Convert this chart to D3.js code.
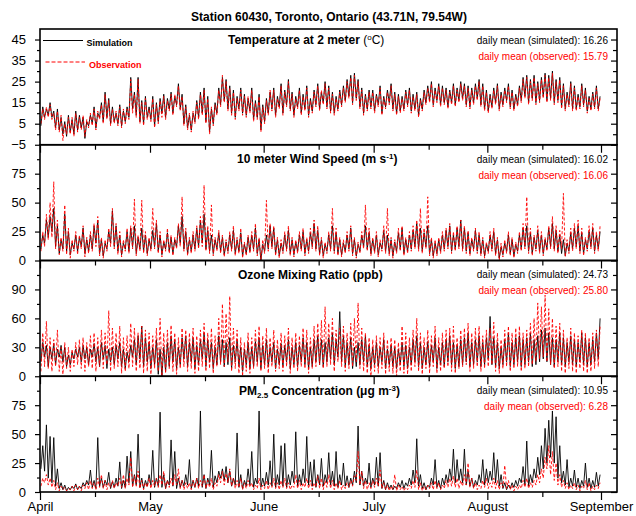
<!DOCTYPE html>
<html>
<head>
<meta charset="utf-8">
<script src="https://cdn.jsdelivr.net/npm/d3@7"></script>
<style>
body { margin: 0; background: #fff; }
text { font-family: "Liberation Sans", Arial, sans-serif; }
</style>
</head>
<body>
<svg width="636" height="516"></svg>
<script>
// two readings per day (night low, afternoon high), Apr 1 .. Sep 1
const tempSim = [
  4,13,8,12,9,15,8,11,3,12,2,8,0,6,-1,9,1,7,0,11,
  2,9,3,8,-2,6,4,9,5,13,3,10,8,15,6,20,8,17,5,13,
  6,10,5,14,4,11,6,13,8,27,12,20,9,27,6,16,5,18,8,13,
  7,18,4,15,6,17,10,19,8,17,12,20,10,18,14,24,12,19,5,14,
  3,9,2,10,6,16,8,20,10,22,6,18,1,12,5,15,10,22,14,27,
  16,26,12,23,10,21,8,18,12,22,10,19,9,17,11,22,7,16,8,19,
  2,14,6,17,10,20,12,22,9,18,13,24,10,21,14,26,12,20,9,18,
  13,22,10,19,12,23,9,17,11,21,14,24,12,20,15,25,13,23,11,20,
  10,18,12,21,14,23,16,26,18,28,15,29,17,26,13,22,10,19,12,21,
  13,21,11,19,14,23,10,18,13,21,15,24,12,20,10,19,11,18,12,21,
  14,22,11,19,12,20,9,17,12,21,15,23,16,25,14,22,16,24,14,23,
  15,22,13,21,15,24,14,22,16,25,17,24,14,23,13,22,15,24,17,26,
  14,24,12,21,11,19,13,22,15,24,12,20,14,22,16,24,13,21,12,19,
  14,23,16,27,18,28,15,26,17,28,15,25,16,27,18,29,16,28,17,30,
  15,26,16,27,13,24,12,20,14,25,12,23,12,19,13,24,14,22,11,18,
  12,20,13,23,12,18
];
const tempObs = [
  5,12,7,13,8,14,7,10,2,11,1,9,-3,5,0,8,0,8,-1,10,
  1,8,2,9,-1,7,3,10,4,12,2,11,7,14,5,19,7,16,4,12,
  5,11,4,13,3,12,5,12,7,26,10,19,8,26,5,15,4,17,7,12,
  6,17,3,14,5,16,8,18,7,16,11,19,9,19,13,23,11,18,4,13,
  2,10,1,11,5,15,7,19,9,21,5,17,0,13,4,14,9,21,13,28,
  15,25,11,22,9,20,7,17,11,21,9,18,8,18,10,21,6,15,7,18,
  1,13,5,16,9,21,11,21,8,17,12,23,9,20,13,25,11,19,8,17,
  12,21,9,18,11,22,8,16,10,20,13,23,11,21,14,24,12,22,10,19,
  9,17,11,20,13,22,15,25,17,27,14,28,16,25,12,21,9,18,11,20,
  12,20,10,18,13,22,9,17,12,20,14,23,11,19,9,18,10,17,11,20,
  13,21,10,18,11,19,8,16,11,20,14,22,15,24,13,21,15,23,13,22,
  14,21,12,20,14,23,13,21,15,24,16,23,13,22,12,21,14,23,16,25,
  13,23,11,20,10,18,12,21,14,23,11,19,13,21,15,23,12,20,11,18,
  13,22,15,26,17,27,14,25,16,27,14,24,15,26,17,28,15,27,16,29,
  14,25,15,26,12,23,11,19,13,24,11,22,11,18,12,23,13,21,10,17,
  11,19,12,22,11,17
];
const windSim = [
  10,22,15,35,20,38,25,45,12,30,6,18,10,40,8,25,5,15,10,22,
  8,20,12,28,6,18,8,22,10,30,15,35,6,18,4,15,10,25,15,43,
  12,30,8,22,5,15,10,25,8,28,12,30,6,20,10,28,8,22,6,18,
  10,26,12,32,8,22,5,16,10,24,8,20,6,18,12,30,15,38,10,25,
  6,18,8,22,10,28,12,35,15,40,10,26,8,22,6,18,10,24,8,20,
  5,16,8,22,10,26,6,18,8,24,4,14,6,20,8,22,10,28,6,18,
  0,14,8,22,10,30,12,28,6,18,4,15,8,22,10,26,6,18,5,16,
  8,22,10,25,6,18,8,24,12,32,10,26,6,18,4,14,8,22,10,30,
  8,24,6,18,5,15,8,22,10,28,6,18,4,14,8,22,12,30,10,24,
  6,18,8,22,5,15,10,26,8,22,6,18,4,16,8,24,10,28,6,18,
  8,22,10,26,12,32,10,28,8,24,12,30,6,18,4,15,6,18,8,22,
  10,26,12,30,8,22,10,28,12,35,10,28,8,24,6,18,10,26,8,22,
  6,18,4,14,8,22,10,25,6,18,2,12,5,15,8,22,6,18,4,14,
  8,22,10,28,12,30,8,24,6,20,10,26,8,22,6,18,10,28,12,32,
  10,26,8,22,6,18,4,15,8,24,10,28,12,30,8,24,6,18,10,25,
  12,28,8,22,10,25
];
const windObs = [
  8,25,12,40,18,50,20,68,10,35,5,20,8,48,5,28,2,18,8,25,
  5,22,10,30,3,20,6,25,8,32,12,38,4,20,2,18,8,28,12,45,
  10,32,5,25,3,18,8,28,6,30,10,53,4,22,8,52,6,25,4,20,
  8,45,10,35,6,25,3,18,8,28,6,22,4,20,10,32,12,55,8,28,
  4,20,6,25,8,30,10,38,12,65,8,30,6,48,4,20,8,26,6,22,
  3,18,6,25,8,30,4,20,6,28,2,16,4,22,6,25,8,32,4,20,
  0,18,6,52,8,32,10,30,4,20,2,18,6,25,8,30,4,20,3,18,
  6,25,8,28,4,20,6,28,10,35,8,30,4,20,2,16,6,25,8,45,
  6,28,4,20,3,18,6,25,8,30,4,20,2,16,6,25,10,48,8,28,
  4,20,6,25,3,18,8,30,6,45,4,20,2,18,6,28,8,30,4,20,
  6,25,8,30,10,35,8,45,6,28,10,55,4,20,2,18,4,20,6,25,
  8,28,10,32,6,25,8,30,10,35,8,30,6,26,4,20,8,28,6,25,
  4,20,2,16,6,25,8,28,4,20,0,15,3,18,6,25,4,20,2,16,
  6,25,8,32,10,55,6,28,4,22,8,30,6,25,4,20,8,30,10,38,
  8,30,6,26,10,58,3,18,6,28,8,32,10,35,6,28,4,20,8,30,
  10,32,6,25,8,30
];
const ozoneSim = [
  15,35,20,32,10,30,18,34,12,28,20,32,15,30,10,22,12,25,18,28,
  20,30,15,32,18,30,12,28,20,34,15,30,10,35,18,32,8,28,15,30,
  12,32,18,35,10,28,8,25,15,32,20,38,12,42,18,52,10,40,15,35,
  8,30,12,38,2,28,0,30,5,35,10,42,15,38,8,30,12,40,18,42,
  10,35,15,40,8,32,12,38,18,45,10,38,15,35,8,30,12,42,15,38,
  10,35,12,40,8,32,15,38,10,30,5,28,12,35,8,30,10,36,15,40,
  8,32,12,38,10,30,15,35,8,28,12,34,10,32,15,38,8,30,12,35,
  10,32,15,40,12,35,8,30,10,38,15,42,12,38,10,35,15,40,18,45,
  12,38,20,67,15,42,10,35,12,40,8,30,10,35,12,38,15,42,10,32,
  8,30,12,35,10,30,15,38,8,28,12,32,10,30,8,28,12,35,10,32,
  8,30,12,38,15,42,10,35,8,30,12,36,10,32,15,40,8,30,12,35,
  10,38,15,42,12,35,8,32,10,38,12,40,15,45,10,35,12,38,15,42,
  10,35,12,40,18,62,12,40,10,35,8,30,12,38,15,45,10,35,12,40,
  15,42,10,38,12,40,15,45,10,38,12,42,15,48,18,50,15,45,12,40,
  10,38,15,45,12,40,10,35,15,42,12,38,10,35,15,45,12,40,10,35,
  12,38,15,45,18,60
];
const ozoneObs = [
  5,45,10,57,8,40,5,38,10,48,5,30,2,35,8,30,5,28,10,35,
  12,38,8,40,5,35,10,42,8,45,5,40,10,48,8,45,12,68,5,50,
  8,45,10,52,3,40,5,42,8,55,10,50,5,45,8,52,3,48,5,45,
  2,42,8,50,5,60,0,45,3,48,8,53,5,45,2,40,8,50,10,48,
  5,45,8,50,3,42,5,48,10,55,5,45,8,50,3,42,10,60,12,75,
  10,65,15,83,5,50,8,48,3,40,0,35,5,45,3,40,8,48,10,52,
  5,42,8,50,3,40,10,48,5,38,8,45,5,42,10,50,3,40,8,45,
  5,42,10,50,8,48,3,40,8,52,10,55,12,58,8,72,10,55,12,60,
  5,48,15,50,10,52,5,45,8,55,10,60,15,76,8,50,5,45,3,40,
  0,38,5,42,3,40,8,45,2,38,5,40,3,38,0,35,5,52,3,45,
  2,40,5,48,10,60,5,45,2,40,8,48,3,42,10,52,3,40,5,45,
  8,48,10,50,5,52,3,40,8,48,10,50,12,55,5,45,8,50,10,52,
  5,42,8,48,10,50,12,56,5,45,3,38,8,48,10,52,5,45,8,50,
  10,52,5,45,8,48,10,55,12,60,15,76,18,72,20,84,15,70,12,60,
  8,52,10,55,5,48,3,40,8,50,5,45,3,42,8,48,5,45,3,40,
  5,45,8,48,10,52
];
const pmSim = [
  20,40,18,58,12,48,8,47,5,20,3,8,2,6,1,4,2,5,3,7,
  2,5,3,8,5,10,6,19,4,10,3,47,5,12,4,10,6,17,3,9,
  4,12,5,26,3,10,4,31,8,35,5,15,6,50,4,12,3,10,5,15,
  6,36,4,12,5,69,4,15,3,10,6,45,5,35,3,12,4,10,5,15,
  6,28,3,10,4,12,5,70,4,15,3,12,6,36,4,14,8,18,12,20,
  10,22,8,18,5,12,6,51,4,15,3,10,5,20,6,35,4,12,7,70,
  4,12,5,17,6,27,5,50,4,15,6,40,5,42,4,15,6,18,8,52,
  5,15,6,20,8,48,6,26,5,28,4,15,6,29,5,15,8,34,6,18,
  5,35,4,15,6,25,5,14,4,12,6,18,8,57,6,18,5,12,7,25,
  4,12,6,30,5,34,3,10,2,8,3,6,2,5,3,8,4,10,3,8,
  5,12,6,19,8,46,5,15,3,8,2,6,4,12,6,28,4,10,3,12,
  6,15,8,20,10,37,8,28,10,20,8,37,6,18,5,12,4,10,6,15,
  8,28,6,20,8,18,10,34,8,28,5,15,3,8,2,6,3,8,4,10,
  5,12,8,22,6,44,5,15,8,20,12,30,15,40,20,55,25,62,30,70,
  25,65,12,40,8,18,6,28,4,12,5,19,4,12,3,10,5,25,4,12,
  3,10,4,17,5,15
];
const pmObs = [
  5,12,8,15,6,12,4,10,2,8,1,5,2,4,1,3,2,5,1,6,
  2,5,1,6,3,8,2,10,3,8,2,12,4,15,3,10,2,8,4,10,
  3,8,5,12,4,15,3,12,6,30,4,14,5,18,3,10,2,8,4,12,
  3,10,5,12,4,15,6,18,3,10,4,12,5,15,6,20,3,10,2,8,
  3,8,2,10,4,12,3,10,5,15,3,10,4,12,2,8,5,15,8,18,
  6,16,8,20,5,12,3,10,4,12,2,8,3,10,4,8,2,6,3,12,
  2,6,3,10,2,8,4,12,3,8,2,10,4,12,3,8,2,6,4,15,
  3,10,2,8,4,12,3,10,2,8,4,14,3,12,2,10,4,15,3,10,
  2,8,3,10,2,6,3,8,4,10,5,14,10,35,6,18,3,10,2,8,
  3,10,4,12,5,19,3,8,2,6,1,5,2,15,1,6,2,5,1,4,
  2,6,3,10,4,19,2,8,1,5,2,6,3,8,2,10,3,8,2,6,
  3,10,4,12,5,14,4,12,3,10,5,15,6,25,4,12,3,8,2,6,
  3,10,4,12,3,8,4,12,3,10,2,8,4,23,3,10,2,6,1,5,
  2,6,3,10,4,12,3,8,4,10,6,15,8,20,12,30,20,40,15,35,
  10,25,6,15,4,10,3,8,2,6,3,8,2,6,1,5,3,10,2,8,
  1,5,2,6,3,8
];

const tempTicks = [-5, 5, 15, 25, 35, 45];
const tempMinor = [0, 10, 20, 30, 40];
const windTicks = [0, 25, 50, 75];
const windMinor = [12.5, 37.5, 62.5, 87.5];
const ozoneTicks = [0, 30, 60, 90];
const ozoneMinor = [15, 45, 75, 105];
const pmTicks = [0, 25, 50, 75];
const pmMinor = [12.5, 37.5, 62.5, 87.5];

const meanSim = ["16.26", "16.02", "24.73", "10.95"];
const meanObs = ["15.79", "16.06", "25.80", "6.28"];

const svg = d3.select("svg");
const left = 40, right = 617, top0 = 29, panelH = 115.75;
const t0 = Date.UTC(2010, 3, 1);

const x = d3.scaleUtc()
    .domain([new Date(t0), new Date(Date.UTC(2010, 8, 1))])
    .range([40, 601]);

const asSeries = arr => arr.map((v, i) => ({ t: new Date(t0 + (i * 12 + 6) * 3600e3), v }));

const monthTicks = d3.utcMonth.range(new Date(t0), new Date(Date.UTC(2010, 8, 2)));
const midTicks = monthTicks.slice(0, -1).map(d => d3.utcDay.offset(d, 15));

const panels = [
  { sim: tempSim, obs: tempObs, domain: [-5, 50], major: tempTicks, minor: tempMinor,
    titleX: 228, titleY: 44, txtY: [44, 59.5],
    title: [["Temperature at 2 meter ", "bold"], ["(", "normal"], ["o", "normal", "sup"], ["C)", "normal"]] },
  { sim: windSim, obs: windObs, domain: [0, 100], major: windTicks, minor: windMinor,
    titleX: 237, titleY: 163, txtY: [163, 179],
    title: [["10 meter Wind Speed (m s", "bold"], ["-1", "bold", "sup"], [")", "bold"]] },
  { sim: ozoneSim, obs: ozoneObs, domain: [0, 120], major: ozoneTicks, minor: ozoneMinor,
    titleX: 238, titleY: 279, txtY: [278, 294],
    title: [["Ozone Mixing Ratio (ppb)", "bold"]] },
  { sim: pmSim, obs: pmObs, domain: [0, 100], major: pmTicks, minor: pmMinor,
    titleX: 239, titleY: 395, txtY: [394, 410],
    title: [["PM", "bold"], ["2.5", "bold", "sub"], [" Concentration (\u03bcg m", "bold"], ["-3", "bold", "sup"], [")", "bold"]] }
];

svg.append("text")
    .attr("x", 329).attr("y", 21)
    .attr("text-anchor", "middle")
    .attr("font-size", 12).attr("font-weight", "bold")
    .text("Station 60430, Toronto, Ontario (43.71N, 79.54W)");

const noLabels = a => a.call(s => s.select(".domain").remove()).call(s => s.selectAll("text").remove());

panels.forEach((p, i) => {
  const top = top0 + i * panelH, bottom = top + panelH;
  const y = d3.scaleLinear().domain(p.domain).range([bottom, top]);
  const g = svg.append("g");

  g.append("clipPath").attr("id", "clip" + i)
    .append("rect").attr("x", left).attr("y", top).attr("width", right - left).attr("height", panelH);

  const line = d3.line().x(d => x(d.t)).y(d => y(d.v));
  const plot = g.append("g").attr("clip-path", `url(#clip${i})`);
  plot.append("path")
      .datum(asSeries(p.sim))
      .attr("d", line)
      .attr("fill", "none").attr("stroke", "#000").attr("stroke-width", 0.9);
  plot.append("path")
      .datum(asSeries(p.obs))
      .attr("d", line)
      .attr("fill", "none").attr("stroke", "#ff0000").attr("stroke-width", 0.9)
      .attr("stroke-dasharray", "3,2");

  // left axis
  g.append("g").attr("transform", `translate(${left},0)`)
      .call(d3.axisLeft(y).tickValues(p.major).tickSize(5).tickPadding(9))
      .call(a => a.select(".domain").remove())
      .call(a => a.selectAll("text").attr("font-size", 13).attr("font-family", "Liberation Sans, Arial, sans-serif").attr("fill", "#000"));
  g.append("g").attr("transform", `translate(${left},0)`)
      .call(d3.axisLeft(y).tickValues(p.minor).tickSize(3))
      .call(noLabels);

  // right axis
  g.append("g").attr("transform", `translate(${right},0)`)
      .call(d3.axisRight(y).tickValues(p.major).tickSize(-6))
      .call(noLabels);
  g.append("g").attr("transform", `translate(${right},0)`)
      .call(d3.axisRight(y).tickValues(p.minor).tickSize(-4))
      .call(noLabels);

  // bottom axis
  const last = i === panels.length - 1;
  const bx = g.append("g").attr("transform", `translate(0,${bottom})`)
      .call(d3.axisBottom(x).tickValues(monthTicks).tickSize(8).tickPadding(2)
        .tickFormat(d3.utcFormat("%B")))
      .call(a => a.select(".domain").remove());
  if (last) {
    bx.selectAll("text").attr("font-size", 13).attr("font-family", "Liberation Sans, Arial, sans-serif").attr("fill", "#000");
  } else {
    bx.selectAll("text").remove();
  }
  g.append("g").attr("transform", `translate(0,${bottom})`)
      .call(d3.axisBottom(x).tickValues(midTicks).tickSize(5))
      .call(noLabels);

  g.selectAll(".tick line").attr("stroke", "#000").attr("stroke-width", 1.2);

  // frame
  g.append("rect")
      .attr("x", left).attr("y", top).attr("width", right - left).attr("height", panelH)
      .attr("fill", "none").attr("stroke", "#000").attr("stroke-width", 1.6);

  // panel title, with super/subscripts shifting the following part back
  const tt = g.append("text").attr("x", p.titleX).attr("y", p.titleY).attr("font-size", 12);
  let shift = 0;
  p.title.forEach(([s, w, pos]) => {
    const off = pos === "sup" ? -4.5 : pos === "sub" ? 3 : 0;
    tt.append("tspan")
      .attr("font-weight", w)
      .attr("font-size", pos ? 8 : 12)
      .attr("dy", off - shift)
      .text(s);
    shift = off;
  });

  g.append("text")
      .attr("x", 608).attr("y", p.txtY[0]).attr("text-anchor", "end")
      .attr("font-size", 10).attr("fill", "#000")
      .text("daily mean (simulated): " + meanSim[i]);
  g.append("text")
      .attr("x", 608).attr("y", p.txtY[1]).attr("text-anchor", "end")
      .attr("font-size", 10).attr("fill", "#ff0000")
      .text("daily mean (observed): " + meanObs[i]);
});

// legend
const lg = svg.append("g");
lg.append("line").attr("x1", 43).attr("x2", 83).attr("y1", 40.5).attr("y2", 40.5)
  .attr("stroke", "#000").attr("stroke-width", 1);
lg.append("text").attr("x", 86.5).attr("y", 46).attr("font-size", 9).attr("font-weight", "bold")
  .text("Simulation");
lg.append("line").attr("x1", 45.5).attr("x2", 85).attr("y1", 62).attr("y2", 62)
  .attr("stroke", "#ff0000").attr("stroke-width", 1).attr("stroke-dasharray", "4,2");
lg.append("text").attr("x", 89).attr("y", 68).attr("font-size", 9).attr("font-weight", "bold")
  .attr("fill", "#ff0000").text("Observation");
</script>
</body>
</html>
